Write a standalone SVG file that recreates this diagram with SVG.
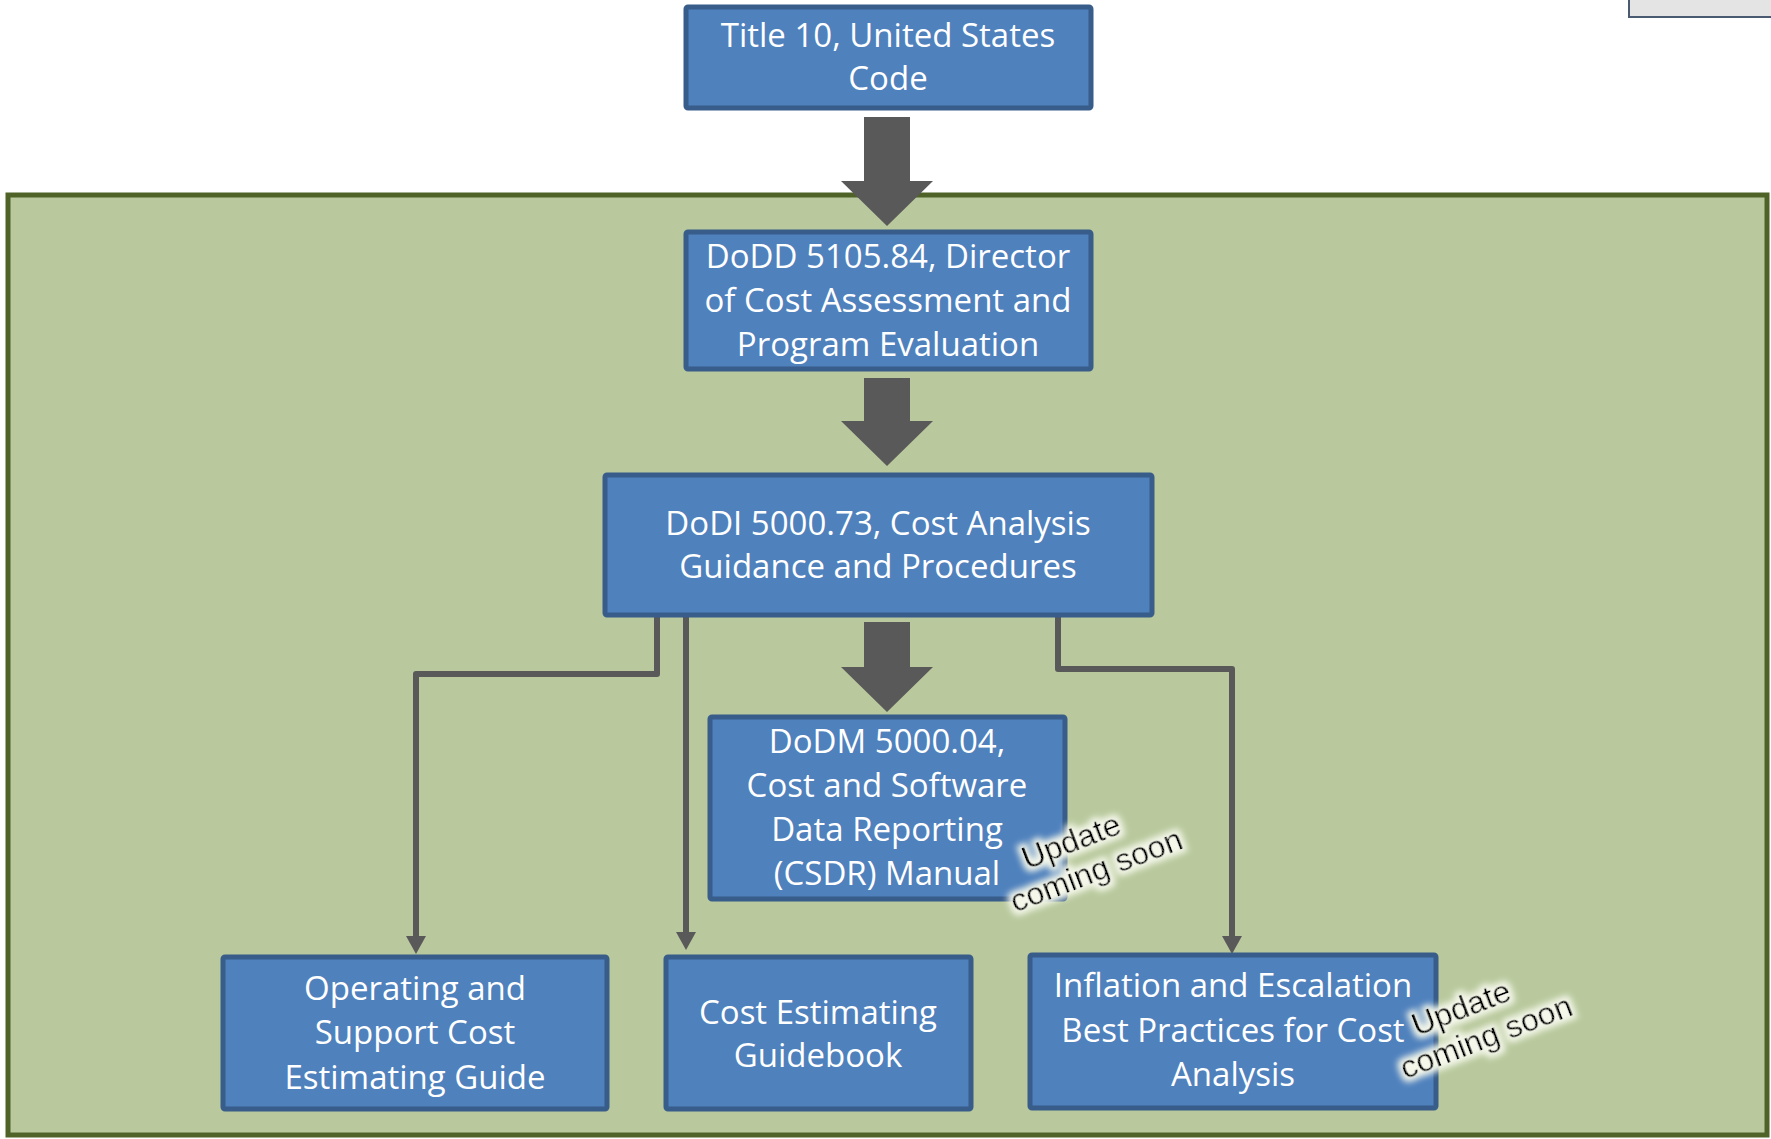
<svg xmlns="http://www.w3.org/2000/svg" width="1771" height="1139" viewBox="0 0 1771 1139">
<style>
.box{fill:#4f81bd;stroke:#385d8a;stroke-width:5}
.t{font-family:"Open Sans","Noto Sans",sans-serif;font-size:33px;fill:#ffffff;text-anchor:middle}
.blk{fill:#595959}
.con{fill:none;stroke:#595959;stroke-width:6;stroke-linejoin:round}
.upd{font-family:"Liberation Sans",Arial,sans-serif;font-size:32px;fill:#000000;text-anchor:middle}
</style>
<defs>
<marker id="ah" viewBox="0 0 18 20" refX="5" refY="10" markerWidth="18" markerHeight="20" markerUnits="userSpaceOnUse" orient="auto">
<path d="M0,0 L18,10 L0,20 z" fill="#595959"/>
</marker>
<filter id="glow" x="-20%" y="-40%" width="140%" height="180%">
<feMorphology in="SourceAlpha" operator="dilate" radius="4" result="d"/>
<feGaussianBlur in="d" stdDeviation="3" result="b"/>
<feFlood flood-color="#f4f7ea" flood-opacity="1"/>
<feComposite in2="b" operator="in" result="g"/>
<feMerge><feMergeNode in="g"/><feMergeNode in="SourceGraphic"/></feMerge>
</filter>
</defs>
<rect id="topright" x="1629" y="-10" width="200" height="27" fill="#e4e4e4" stroke="#4a5a70" stroke-width="2"/>
<rect id="region" x="8" y="195" width="1759" height="940" fill="#b9c99d" stroke="#4f6228" stroke-width="5"/>
<g id="connectors">
<polygon class="blk" points="864,117 910,117 910,181 933,181 887,226 841,181 864,181"/>
<polygon class="blk" points="864,378 910,378 910,421 933,421 887,466 841,421 864,421"/>
<polygon class="blk" points="864,622 910,622 910,667 933,667 887,712 841,667 864,667"/>
<path class="con" d="M657,615 V674 H416 V941" marker-end="url(#ah)"/>
<path class="con" d="M686,615 V937" marker-end="url(#ah)"/>
<path class="con" d="M1058,615 V669 H1232 V941" marker-end="url(#ah)"/>
</g>
<g id="title10">
<rect class="box" x="686" y="7" width="405" height="101" rx="2"/>
<text class="t" x="888" y="47">Title 10, United States</text>
<text class="t" x="888" y="90">Code</text>
</g>
<g id="dodd">
<rect class="box" x="686" y="232" width="405" height="137" rx="2"/>
<text class="t" x="888" y="268">DoDD 5105.84, Director</text>
<text class="t" x="888" y="312">of Cost Assessment and</text>
<text class="t" x="888" y="356">Program Evaluation</text>
</g>
<g id="dodi">
<rect class="box" x="605" y="475" width="547" height="140" rx="2"/>
<text class="t" x="878" y="535">DoDI 5000.73, Cost Analysis</text>
<text class="t" x="878" y="578">Guidance and Procedures</text>
</g>
<g id="dodm">
<rect class="box" x="710" y="717" width="355" height="182" rx="2"/>
<text class="t" x="887" y="753">DoDM 5000.04,</text>
<text class="t" x="887" y="797">Cost and Software</text>
<text class="t" x="887" y="841">Data Reporting</text>
<text class="t" x="887" y="885">(CSDR) Manual</text>
</g>
<g id="osc">
<rect class="box" x="223" y="957" width="384" height="152" rx="2"/>
<text class="t" x="415" y="1000">Operating and</text>
<text class="t" x="415" y="1044">Support Cost</text>
<text class="t" x="415" y="1089">Estimating Guide</text>
</g>
<g id="ceg">
<rect class="box" x="666" y="957" width="305" height="152" rx="2"/>
<text class="t" x="818" y="1024">Cost Estimating</text>
<text class="t" x="818" y="1067">Guidebook</text>
</g>
<g id="infl">
<rect class="box" x="1030" y="955" width="406" height="153" rx="2"/>
<text class="t" x="1233" y="997">Inflation and Escalation</text>
<text class="t" x="1233" y="1042">Best Practices for Cost</text>
<text class="t" x="1233" y="1086">Analysis</text>
</g>
<g id="update1" filter="url(#glow)" transform="rotate(-21 1085 855)">
<text class="upd" x="1077" y="848">Update</text>
<text class="upd" x="1090" y="884">coming soon</text>
</g>
<g id="update2" filter="url(#glow)" transform="rotate(-21 1474 1022)">
<text class="upd" x="1467" y="1015">Update</text>
<text class="upd" x="1480" y="1051">coming soon</text>
</g>
</svg>
